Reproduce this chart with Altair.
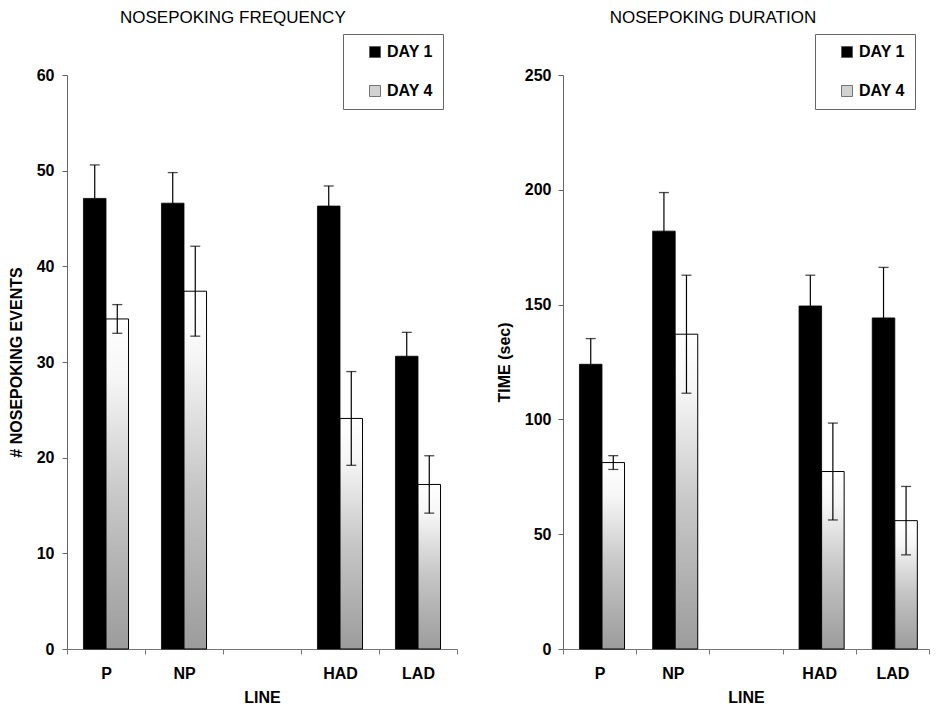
import altair as alt
import pandas as pd

# ---- data ----
lines = ["P", "NP", "HAD", "LAD"]
x_domain = ["P", "NP", " ", "HAD", "LAD"]   # third slot is empty in the original
days = ["DAY 1", "DAY 4"]

freq_day1 = [47.1, 46.6, 46.3, 30.6]
freq_day1_sem = [3.5, 3.2, 2.1, 2.5]
freq_day4 = [34.5, 37.4, 24.1, 17.2]
freq_day4_sem = [1.5, 4.7, 4.9, 3.0]

dur_day1 = [124, 182, 149.4, 144.2]
dur_day1_sem = [11.2, 16.8, 13.4, 22.0]
dur_day4 = [81.2, 137.1, 77.3, 55.9]
dur_day4_sem = [3.0, 25.7, 21.1, 14.9]

freq_ticks = [0, 10, 20, 30, 40, 50, 60]
dur_ticks = [0, 50, 100, 150, 200, 250]

FONT = "Liberation Sans"


def make_df(d1, s1, d4, s4):
    rows = []
    for i, ln in enumerate(lines):
        rows.append({"line": ln, "day": "DAY 1", "mean": d1[i], "sem": s1[i]})
        rows.append({"line": ln, "day": "DAY 4", "mean": d4[i], "sem": s4[i]})
    return pd.DataFrame(rows)


gradient = alt.LinearGradient(
    gradient="linear",
    stops=[
        alt.GradientStop(color="#ffffff", offset=0),
        alt.GradientStop(color="#f6f6f6", offset=0.18),
        alt.GradientStop(color="#c6c6c6", offset=0.55),
        alt.GradientStop(color="#9c9c9c", offset=1),
    ],
    x1=0, x2=0, y1=0, y2=1,
)

AX = dict(labelFont=FONT, labelFontSize=16, labelFontWeight="bold",
          labelColor="black", titleFont=FONT, titleFontSize=16,
          titleFontWeight="bold", titleColor="black", grid=False)


def panel(df, title, ytitle, ymax, yticks, width, legend_x, label_pad):
    base = alt.Chart(df).transform_calculate(
        lo="datum.mean - datum.sem", hi="datum.mean + datum.sem"
    )
    x = alt.X(
        "line:N",
        scale=alt.Scale(domain=x_domain, paddingInner=0, paddingOuter=0),
        axis=alt.Axis(
            title="LINE", labelAngle=0, tickBand="extent", tickSize=5,
            labelPadding=11, titlePadding=8, domainColor="#777", tickColor="#777",
            **AX,
        ),
    )
    xo = alt.XOffset(
        "day:N", scale=alt.Scale(domain=days, paddingInner=0, paddingOuter=0.73)
    )
    y = alt.Y(
        "mean:Q",
        scale=alt.Scale(domain=[0, ymax], nice=False),
        axis=alt.Axis(
            title=ytitle, values=yticks, tickSize=5, labelPadding=label_pad,
            titlePadding=12, domainColor="#666", tickColor="#666", **AX,
        ),
    )
    bars1 = base.transform_filter(alt.datum.day == "DAY 1").mark_bar(
        stroke="black", strokeWidth=0.8
    ).encode(
        x=x, xOffset=xo, y=y,
        color=alt.Color(
            "day:N",
            scale=alt.Scale(domain=days, range=["#000000", "#d2d2d2"]),
            legend=alt.Legend(
                title=None, orient="none", legendX=legend_x, legendY=-41,
                symbolType="square", symbolSize=121, symbolStrokeColor="#555",
                symbolStrokeWidth=0.8, symbolOffset=14, labelOffset=4,
                labelFont=FONT, labelFontSize=16, labelFontWeight="bold",
                labelColor="black", labelExpr="datum.label + '     '",
                padding=10, rowPadding=23, strokeColor="#666", fillColor="white",
            ),
        ),
    )
    bars4 = base.transform_filter(alt.datum.day == "DAY 4").mark_bar(
        fill=gradient, stroke="black", strokeWidth=1
    ).encode(x=x, xOffset=xo, y=y)
    rules = base.mark_rule(color="black", strokeWidth=1.2).encode(
        x=x, xOffset=xo, y="lo:Q", y2="hi:Q"
    )
    cap_hi = base.mark_tick(color="black", size=10, thickness=1.3).encode(
        x=x, xOffset=xo, y="hi:Q"
    )
    cap_lo = base.mark_tick(color="black", size=10, thickness=1.3).encode(
        x=x, xOffset=xo, y="lo:Q"
    )
    return alt.layer(bars1, bars4, rules, cap_hi, cap_lo).properties(
        width=width, height=574,
        title=alt.TitleParams(
            text=title, font=FONT, fontSize=17, fontWeight="normal",
            anchor="middle", frame="bounds", offset=7, color="black",
        ),
    )


left = panel(make_df(freq_day1, freq_day1_sem, freq_day4, freq_day4_sem),
             "NOSEPOKING FREQUENCY", "# NOSEPOKING EVENTS", 60, freq_ticks,
             390, 276, 8)
right = panel(make_df(dur_day1, dur_day1_sem, dur_day4, dur_day4_sem),
              "NOSEPOKING DURATION", "TIME (sec)", 250, dur_ticks,
              366, 252, 7)

chart = alt.hconcat(left, right, spacing=38).resolve_scale(
    color="independent"
).resolve_legend(color="independent").configure_view(stroke=None).properties(
    padding=0
)

chart.save("out.html", embed_options={"renderer": "svg", "actions": False})
